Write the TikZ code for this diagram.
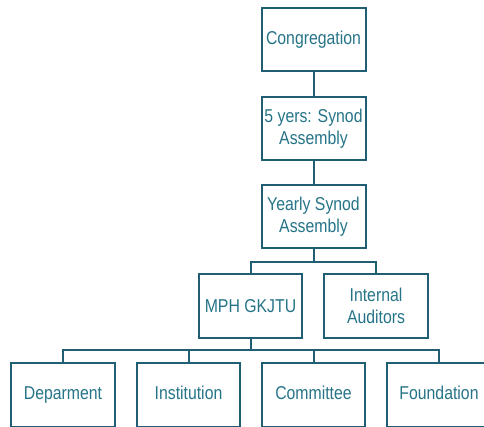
\documentclass[tikz,border=0pt]{standalone}
\usepackage{fontspec}
\usepackage{xcolor}
\usepackage{tikz}
\usetikzlibrary{positioning}
\newfontfamily\orgfont[FakeStretch=0.85]{Liberation Sans}
\definecolor{orgline}{RGB}{31,94,115}
\definecolor{orgtext}{RGB}{38,116,136}

\begin{document}
\begin{tikzpicture}[
    x=1pt, y=1pt,
    orgbox/.style={draw=orgline, line width=2pt, fill=white, align=center,
        minimum width=104pt, minimum height=63pt, inner sep=1pt,
        text=orgtext, font=\orgfont\fontsize{18.6}{21.7}\selectfont},
    orgline/.style={draw=orgline, line width=2pt}
]
\useasboundingbox (0,0) rectangle (484,427);

% top chain
\node[orgbox] (cong) at (313.5,387.5) {Congregation};
\node[orgbox] (syn5) at (313.5,298.5) {5 yers: Synod\\Assembly};
\node[orgbox] (year) at (313.5,210) {Yearly Synod\\Assembly};

% second level
\node[orgbox, minimum width=103pt, minimum height=64pt] (mph) at (250.5,121) {MPH GKJTU};
\node[orgbox, minimum height=64pt] (audit) at (376,121) {Internal\\Auditors};

% bottom level
\node[orgbox, minimum height=64pt] (dep) at (63,32) {\strut Deparment};
\node[orgbox, minimum width=103pt, minimum height=64pt] (inst) at (188.5,32) {\strut Institution};
\node[orgbox, minimum width=103pt, minimum height=64pt] (comm) at (313.5,32) {\strut Committee};
\node[orgbox, minimum height=64pt] (found) at (439,32) {\strut Foundation};

% connectors
\coordinate (bar1) at (313.5,165);
\coordinate (bar2) at (250.5,77);
\draw[orgline] (cong) -- (syn5);
\draw[orgline] (syn5) -- (year);
\draw[orgline] (year) -- (bar1);
\draw[orgline] (mph.north) |- (bar1) -| (audit.north);
\draw[orgline] (mph) -- (bar2);
\draw[orgline] (dep.north) |- (bar2) -| (found.north);
\draw[orgline] (inst.north) -- (inst.north |- bar2);
\draw[orgline] (comm.north) -- (comm.north |- bar2);

\end{tikzpicture}
\end{document}
